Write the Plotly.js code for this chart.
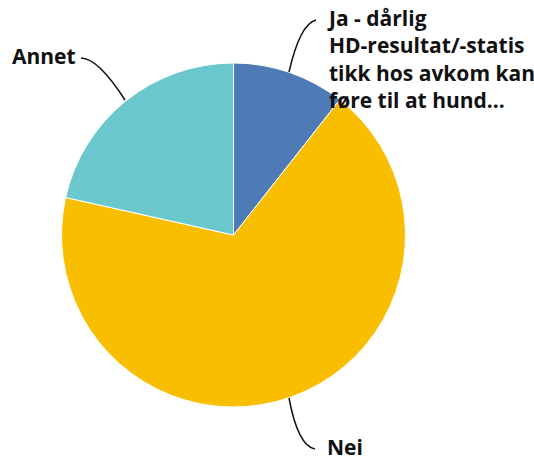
<!DOCTYPE html>
<html><head><meta charset="utf-8">
<script src="https://cdn.plot.ly/plotly-3.0.1.min.js"></script>
<style>body{margin:0;background:#fff}#chart{width:534px;height:461px}</style>
</head><body><div id="chart"></div>
<script>
const categories = ["Ja - dårlig HD-resultat/-statistikk hos avkom kan føre til at hund...", "Nei", "Annet"];
const displayLabels = ["Ja - dårlig<br>HD-resultat/-statis<br>tikk hos avkom kan<br>føre til at hund...", "Nei", "Annet"];
const values = [10.6, 67.9, 21.5];
const colors = ["#4e7ab5", "#f9be00", "#6ac8cc"];

const W = 534, H = 461;
const px = x => x / W;
const py = y => 1 - y / H;
const font = {family: "'Open Sans', sans-serif", size: 21, color: "#111"};

const data = [{
  type: "pie",
  labels: categories,
  values: values,
  sort: false,
  direction: "clockwise",
  rotation: 0,
  textinfo: "none",
  hoverinfo: "label+percent",
  marker: {colors: colors, line: {color: "#ffffff", width: 1}},
  domain: {x: [px(61), px(406)], y: [py(407), py(63)]},
  showlegend: false
}];

function leader(a, c, b) {
  return {
    type: "path", xref: "paper", yref: "paper",
    path: `M ${px(a[0])} ${py(a[1])} Q ${px(c[0])} ${py(c[1])} ${px(b[0])} ${py(b[1])}`,
    line: {color: "#111", width: 1.5}
  };
}

const layout = {
  width: W, height: H,
  margin: {l: 0, r: 0, t: 0, b: 0},
  paper_bgcolor: "#fff",
  shapes: [
    leader([289, 72], [300, 24], [316, 20]),
    leader([125, 100], [98, 58], [81, 58]),
    leader([289, 398], [298, 446], [315, 449])
  ],
  annotations: [
    {text: "<b>" + displayLabels[0] + "</b>", xref: "paper", yref: "paper", x: px(325), y: py(2),
     xanchor: "left", yanchor: "top", align: "left", showarrow: false, font: font},
    {text: "<b>" + displayLabels[2] + "</b>", xref: "paper", yref: "paper", x: px(78), y: py(56),
     xanchor: "right", yanchor: "middle", align: "right", showarrow: false, font: font},
    {text: "<b>" + displayLabels[1] + "</b>", xref: "paper", yref: "paper", x: px(325), y: py(447),
     xanchor: "left", yanchor: "middle", align: "left", showarrow: false, font: font}
  ]
};

Plotly.newPlot("chart", data, layout, {displayModeBar: false, staticPlot: true});
</script>
</body></html>
